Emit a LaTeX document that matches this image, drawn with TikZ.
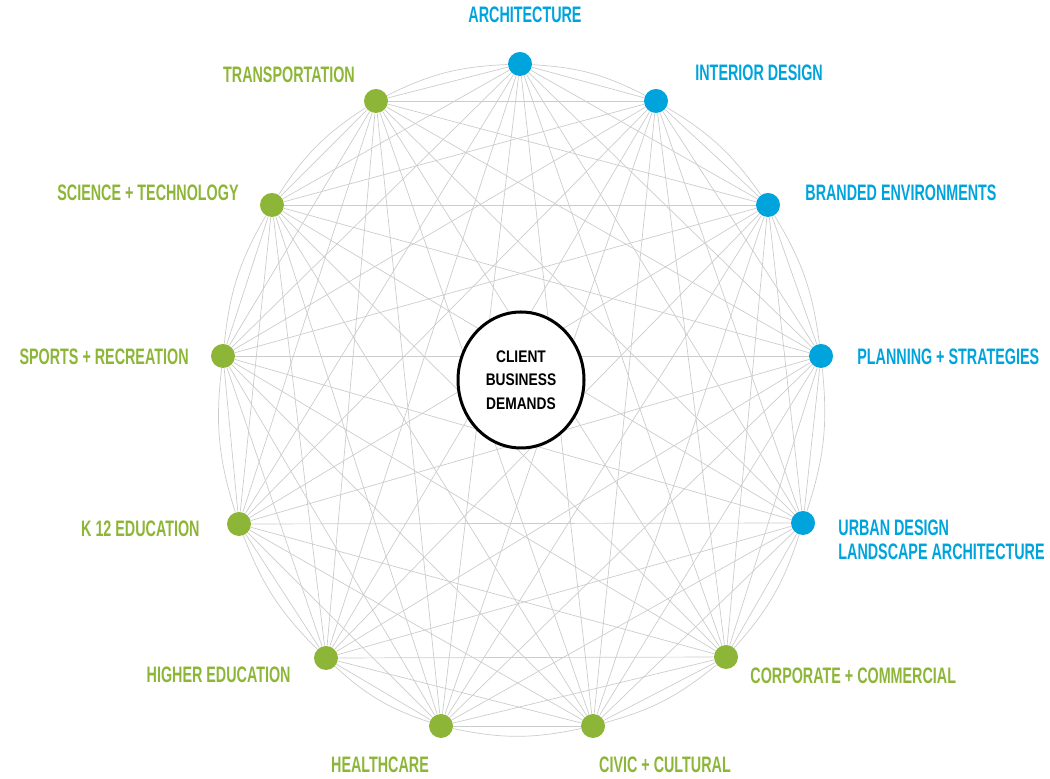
\documentclass[tikz,border=0pt]{standalone}
\usepackage{fontspec}
\usepackage{tikz}
\usetikzlibrary{shapes.geometric,backgrounds}
\newfontfamily\labelfont[FakeStretch=0.64]{Liberation Sans Bold}
\newfontfamily\hubfont[FakeStretch=0.82]{Liberation Sans Bold}
\definecolor{studioblue}{RGB}{0,164,220}
\definecolor{studiogreen}{RGB}{141,182,56}
\tikzset{
  dot/.style={circle,minimum size=12pt,inner sep=0pt},
  bluedot/.style={dot,fill=studioblue},
  greendot/.style={dot,fill=studiogreen},
  tag/.style={inner sep=0pt,font=\labelfont\fontsize{11.2}{12}\selectfont},
  bluetag/.style={tag,text=studioblue},
  greentag/.style={tag,text=studiogreen},
  web/.style={draw=black!20,line width=0.35pt},
  hub/.style={ellipse,draw,line width=1.5pt,fill=white,minimum width=63pt,minimum height=68pt,inner sep=0pt,align=center,font=\hubfont\fontsize{8.4}{11.75}\selectfont}
}

\begin{document}
\begin{tikzpicture}[x=0.5pt,y=-0.5pt]
	\useasboundingbox (0,0) rectangle (1050,779);

	% practice dots
	\node[bluedot] (arch) at (520,64) {};
	\node[bluedot] (interior) at (656,101) {};
	\node[bluedot] (branded) at (768,205) {};
	\node[bluedot] (planning) at (821,356) {};
	\node[bluedot] (urban) at (803,523) {};
	\node[greendot] (corporate) at (726,657) {};
	\node[greendot] (civic) at (593,726) {};
	\node[greendot] (health) at (441,726) {};
	\node[greendot] (higher) at (326,658) {};
	\node[greendot] (kedu) at (239,524) {};
	\node[greendot] (sports) at (223,356) {};
	\node[greendot] (science) at (272,205) {};
	\node[greendot] (transport) at (376,101) {};

	% names
	\node[bluetag] (archtag) at (525,15) {ARCHITECTURE};
	\node[bluetag,anchor=west] (interiortag) at (695,73) {INTERIOR DESIGN};
	\node[bluetag,anchor=west] (brandedtag) at (805,193) {BRANDED ENVIRONMENTS};
	\node[bluetag,anchor=west] (planningtag) at (857,357) {PLANNING + STRATEGIES};
	\node[bluetag,anchor=west,align=left] (urbantag) at (838,540) {URBAN DESIGN\\LANDSCAPE ARCHITECTURE};
	\node[greentag,anchor=west] (corporatetag) at (750,676) {CORPORATE + COMMERCIAL};
	\node[greentag] (civictag) at (665,765) {CIVIC + CULTURAL};
	\node[greentag] (healthtag) at (380,765) {HEALTHCARE};
	\node[greentag,anchor=east] (highertag) at (291,675) {HIGHER EDUCATION};
	\node[greentag,anchor=east] (kedutag) at (200,529) {K 12 EDUCATION};
	\node[greentag,anchor=east] (sportstag) at (189,357) {SPORTS + RECREATION};
	\node[greentag,anchor=east] (sciencetag) at (239,193) {SCIENCE + TECHNOLOGY};
	\node[greentag] (transporttag) at (289,75) {TRANSPORTATION};

	\node[hub] (client) at (521,380) {CLIENT\\BUSINESS\\DEMANDS};

	\begin{pgfonlayer}{background}
	\foreach \a [count=\i] in {arch,interior,branded,planning,urban,corporate,civic,health,higher,kedu,sports,science,transport}
	  \foreach \b [count=\j] in {arch,interior,branded,planning,urban,corporate,civic,health,higher,kedu,sports,science,transport}
	    {\ifnum\j>\i \draw[web] (\a) -- (\b); \fi}
	% outer rim
	\foreach \a/\b in {arch/interior,interior/branded,branded/planning,planning/urban,urban/corporate,corporate/civic,civic/health,health/higher,higher/kedu,kedu/sports,sports/science,science/transport,transport/arch}
	  \draw[web] (\a) to[bend left=12] (\b);
	\end{pgfonlayer}
\end{tikzpicture}
\end{document}
